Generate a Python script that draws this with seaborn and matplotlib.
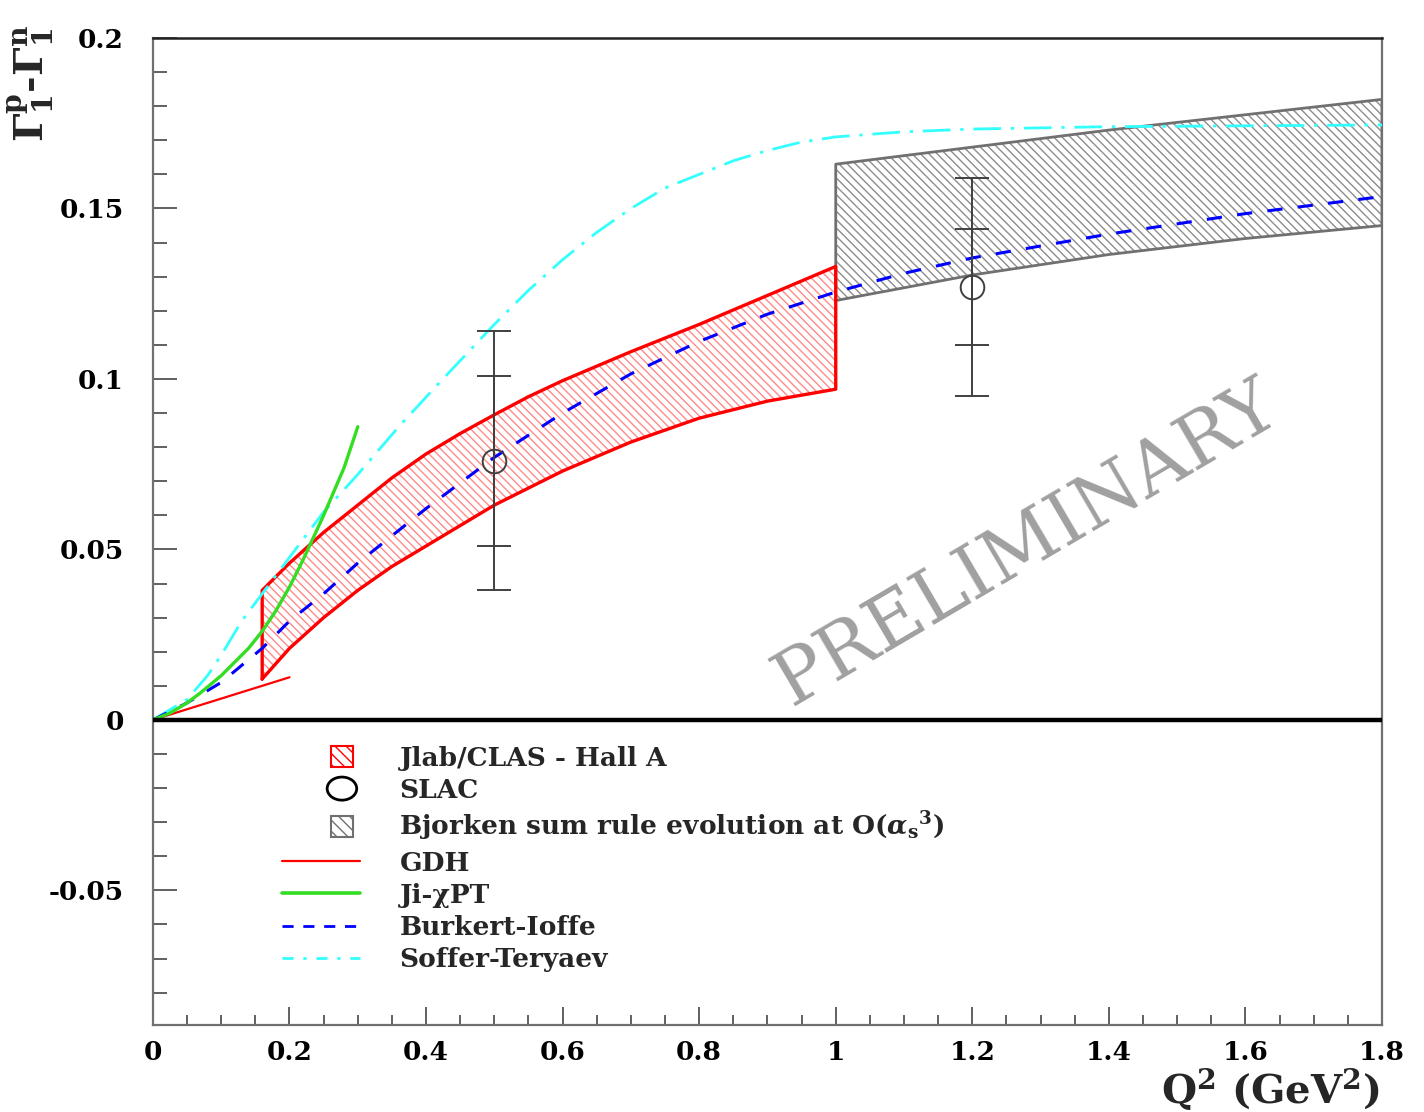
"""
Bjorken sum Gamma1(p-n) vs Q^2 -- recreated with seaborn/matplotlib.
"""

import numpy as np
import pandas as pd

import matplotlib
matplotlib.use("Agg")

import matplotlib.pyplot as plt
import matplotlib.patches as mpatches
from matplotlib.lines import Line2D
from matplotlib.legend_handler import HandlerPatch
from matplotlib.ticker import MultipleLocator
import seaborn as sns


# ------------------------- DATA ---------------------------

# Jlab/CLAS - Hall A band
jlab_q2 = [0.16, 0.2, 0.25, 0.3, 0.35, 0.4, 0.45, 0.5, 0.55, 0.6, 0.7, 0.8, 0.9, 1.0]
jlab_lo = [0.012, 0.021, 0.030, 0.038, 0.045, 0.051, 0.057, 0.063, 0.068, 0.073,
           0.0815, 0.0885, 0.0935, 0.097]
jlab_hi = [0.038, 0.046, 0.055, 0.063, 0.071, 0.078, 0.084, 0.0895, 0.0948, 0.0995,
           0.108, 0.116, 0.1245, 0.133]

# Bjorken sum rule evolution band
bj_q2 = [1.0, 1.2, 1.4, 1.6, 1.8]
bj_lo = [0.123, 0.1305, 0.1365, 0.1412, 0.1450]
bj_hi = [0.163, 0.168, 0.173, 0.1775, 0.182]

# SLAC points: value, stat error, total error
slac_q2 = [0.5, 1.2]
slac_val = [0.076, 0.127]
slac_stat = [0.025, 0.017]
slac_tot = [0.038, 0.032]

# GDH slope
gdh_q2 = [0.0, 0.2]
gdh_val = [0.0, 0.0125]

# Ji chiPT
ji_q2 = [0.0, 0.025, 0.05, 0.07, 0.1, 0.12, 0.14, 0.16, 0.18, 0.2, 0.22, 0.25, 0.28, 0.3]
ji_val = [0.0, 0.002, 0.005, 0.008, 0.013, 0.017, 0.021, 0.026, 0.032, 0.039,
          0.047, 0.060, 0.074, 0.086]

# Burkert-Ioffe
bi_q2 = [0.0, 0.05, 0.1, 0.16, 0.2, 0.25, 0.3, 0.35, 0.4, 0.5, 0.6, 0.7, 0.8, 0.9,
         1.0, 1.1, 1.2, 1.3, 1.4, 1.5, 1.6, 1.7, 1.8]
bi_val = [0.0, 0.005, 0.011, 0.021, 0.029, 0.037, 0.046, 0.054, 0.062, 0.077, 0.090,
          0.1015, 0.111, 0.119, 0.1255, 0.131, 0.1355, 0.139, 0.1425, 0.1455, 0.1485,
          0.151, 0.1535]

# Soffer-Teryaev
st_q2 = [0.0, 0.05, 0.08, 0.1, 0.13, 0.16, 0.19, 0.22, 0.25, 0.3, 0.36, 0.42, 0.5,
         0.55, 0.6, 0.65, 0.7, 0.75, 0.8, 0.85, 0.9, 0.95, 1.0, 1.1, 1.2, 1.4, 1.8]
st_val = [0.0, 0.006, 0.013, 0.019, 0.029, 0.037, 0.045, 0.053, 0.061, 0.072, 0.086,
          0.099, 0.116, 0.126, 0.135, 0.143, 0.150, 0.156, 0.160, 0.164, 0.167,
          0.1695, 0.171, 0.1725, 0.1733, 0.174, 0.1745]

x_ticks = [0, 0.2, 0.4, 0.6, 0.8, 1.0, 1.2, 1.4, 1.6, 1.8]
x_ticklabels = ["0", "0.2", "0.4", "0.6", "0.8", "1", "1.2", "1.4", "1.6", "1.8"]
y_ticks = [-0.05, 0, 0.05, 0.1, 0.15, 0.2]
y_ticklabels = ["-0.05", "0", "0.05", "0.1", "0.15", "0.2"]

legend_labels = [
    "Jlab/CLAS - Hall A",
    "SLAC",
    r"Bjorken sum rule evolution at O($\alpha_\mathrm{s}$$^3$)",
    "GDH",
    "Ji-χPT",
    "Burkert-Ioffe",
    "Soffer-Teryaev",
]

# ------------------------- STYLE --------------------------

RED = "#ff0000"
RED_HATCH = "#ff8a8a"
GRAY_EDGE = "#707070"
GRAY_HATCH = "#8c8c8c"
GREEN = "#33dd22"
BLUE = "#0000ff"
CYAN = "#33ffff"
EBAR = "#404040"
SERIF = "DejaVu Serif"

sns.set_theme(style="white")
plt.rcParams["font.family"] = [SERIF, "Liberation Serif"]
plt.rcParams["font.weight"] = "bold"
plt.rcParams["mathtext.fontset"] = "custom"
plt.rcParams["mathtext.rm"] = "DejaVu Serif:bold"
plt.rcParams["mathtext.it"] = "DejaVu Serif:bold:italic"
plt.rcParams["mathtext.bf"] = "DejaVu Serif:bold"
plt.rcParams["hatch.linewidth"] = 1.0


def box_handler(legend, orig_handle, xdescent, ydescent, width, height, fontsize):
    s = height * 1.15
    cx = width * 0.77
    return mpatches.Rectangle((cx - s / 2 - xdescent, (height - s) / 2 - ydescent), s, s)


def circle_handler(legend, orig_handle, xdescent, ydescent, width, height, fontsize):
    cx = width * 0.77
    return mpatches.Ellipse((cx - xdescent, height / 2 - ydescent), height * 1.6, height * 1.25)


# ------------------------- PLOT ---------------------------

fig = plt.figure(figsize=(14.24, 11.12), dpi=100)
ax = fig.add_axes([0.1074, 0.0782, 0.8631, 0.8876])

# bands: hatch only, then outline
ax.fill_between(bj_q2, bj_lo, bj_hi, facecolor="none", edgecolor=GRAY_HATCH,
                hatch="\\\\\\\\", linewidth=0, zorder=1)
ax.fill_between(jlab_q2, jlab_lo, jlab_hi, facecolor="none", edgecolor=RED_HATCH,
                hatch="\\\\\\\\", linewidth=0, zorder=1)

bj_outline = pd.DataFrame({
    "q2": bj_q2 + bj_q2[::-1] + [bj_q2[0]],
    "g": bj_lo + bj_hi[::-1] + [bj_lo[0]],
})
jlab_outline = pd.DataFrame({
    "q2": jlab_q2 + jlab_q2[::-1] + [jlab_q2[0]],
    "g": jlab_lo + jlab_hi[::-1] + [jlab_lo[0]],
})
sns.lineplot(data=bj_outline, x="q2", y="g", sort=False, estimator=None, ax=ax,
             color=GRAY_EDGE, linewidth=2.0, zorder=2)
sns.lineplot(data=jlab_outline, x="q2", y="g", sort=False, estimator=None, ax=ax,
             color=RED, linewidth=2.4, zorder=2)

# model curves
sns.lineplot(x=gdh_q2, y=gdh_val, ax=ax, color=RED, linewidth=1.6, zorder=3)
sns.lineplot(x=st_q2, y=st_val, ax=ax, color=CYAN, linewidth=2.0, zorder=3,
             linestyle=(0, (10, 3.5, 1.2, 3.5)))
sns.lineplot(x=bi_q2, y=bi_val, ax=ax, color=BLUE, linewidth=2.2, zorder=4,
             linestyle=(0, (5, 5)))
sns.lineplot(x=ji_q2, y=ji_val, ax=ax, color=GREEN, linewidth=2.4, zorder=4)

# SLAC points: total and stat error bars
ax.errorbar(slac_q2, slac_val, yerr=slac_tot, fmt="none", ecolor=EBAR,
            elinewidth=1.4, capsize=12, capthick=1.4, zorder=5)
ax.errorbar(slac_q2, slac_val, yerr=slac_stat, fmt="none", ecolor=EBAR,
            elinewidth=1.4, capsize=12, capthick=1.4, zorder=5)
ax.plot(slac_q2, slac_val, linestyle="none", marker="o", markersize=17,
        markerfacecolor="none", markeredgecolor=EBAR, markeredgewidth=1.4, zorder=6)

# zero line
ax.axhline(0, color="black", linewidth=3.2, zorder=6)

# PRELIMINARY watermark
ax.text(1.28, 0.0516, "PRELIMINARY", rotation=30.4, rotation_mode="anchor",
        ha="center", va="center", fontsize=54, fontweight="normal",
        family=SERIF, color="#a0a0a0", zorder=0)

# axes
ax.set_xlim(0, 1.8)
ax.set_ylim(-0.0895, 0.2)
ax.set_xticks(x_ticks)
ax.set_xticklabels(x_ticklabels)
ax.set_yticks(y_ticks)
ax.set_yticklabels(y_ticklabels)
ax.xaxis.set_minor_locator(MultipleLocator(0.05))
ax.yaxis.set_minor_locator(MultipleLocator(0.01))
ax.tick_params(bottom=True, left=True, top=False, right=False, which="both")
ax.tick_params(axis="x", which="major", direction="in", length=13, width=1.4,
               color="#606060", labelsize=19, pad=11)
ax.tick_params(axis="x", which="minor", direction="in", length=7, width=1.4,
               color="#606060")
ax.tick_params(axis="y", which="major", direction="in", length=17, width=1.4,
               color="#606060", labelsize=19, pad=21)
ax.tick_params(axis="y", which="minor", direction="in", length=10, width=1.4,
               color="#606060")
for lab in ax.get_xticklabels() + ax.get_yticklabels():
    lab.set_fontweight("bold")
    lab.set_color("black")
for side in ["left", "bottom", "right"]:
    ax.spines[side].set_color("#707070")
    ax.spines[side].set_linewidth(1.6)
ax.spines["top"].set_color("#222222")
ax.spines["top"].set_linewidth(1.8)
ax.set_xlabel("")
ax.set_ylabel("")

# axis titles
fig.text(0.0225, 0.925, r"$\Gamma_1^{\mathrm{p}}$-$\Gamma_1^{\mathrm{n}}$", rotation=90,
         ha="center", va="center", fontsize=29, fontweight="bold")
fig.text(0.892, 0.021, r"Q$^2$ (GeV$^2$)", ha="center", va="center",
         fontsize=29, fontweight="bold")

# legend
handles = [
    mpatches.Patch(facecolor="none", edgecolor=RED, hatch="\\\\\\", linewidth=1.5),
    mpatches.Patch(facecolor="none", edgecolor="black", linewidth=2.0),
    mpatches.Patch(facecolor="none", edgecolor=GRAY_EDGE, hatch="\\\\\\", linewidth=1.5),
    Line2D([], [], color=RED, linewidth=1.6),
    Line2D([], [], color=GREEN, linewidth=2.6),
    Line2D([], [], color=BLUE, linewidth=2.0, linestyle=(0, (4, 3.5))),
    Line2D([], [], color=CYAN, linewidth=2.0, linestyle=(0, (4, 3.5, 1.2, 3.5))),
]
handler_map = {
    handles[0]: HandlerPatch(patch_func=box_handler),
    handles[1]: HandlerPatch(patch_func=circle_handler),
    handles[2]: HandlerPatch(patch_func=box_handler),
}
leg = ax.legend(handles, legend_labels, handler_map=handler_map,
                loc="upper left", bbox_to_anchor=(0.105, 0.283),
                borderaxespad=0, borderpad=0, frameon=False,
                prop={"family": SERIF, "weight": "bold", "size": 19},
                handlelength=2.95, handletextpad=1.5, labelspacing=0.27)

fig.savefig("out.png", dpi=100)
